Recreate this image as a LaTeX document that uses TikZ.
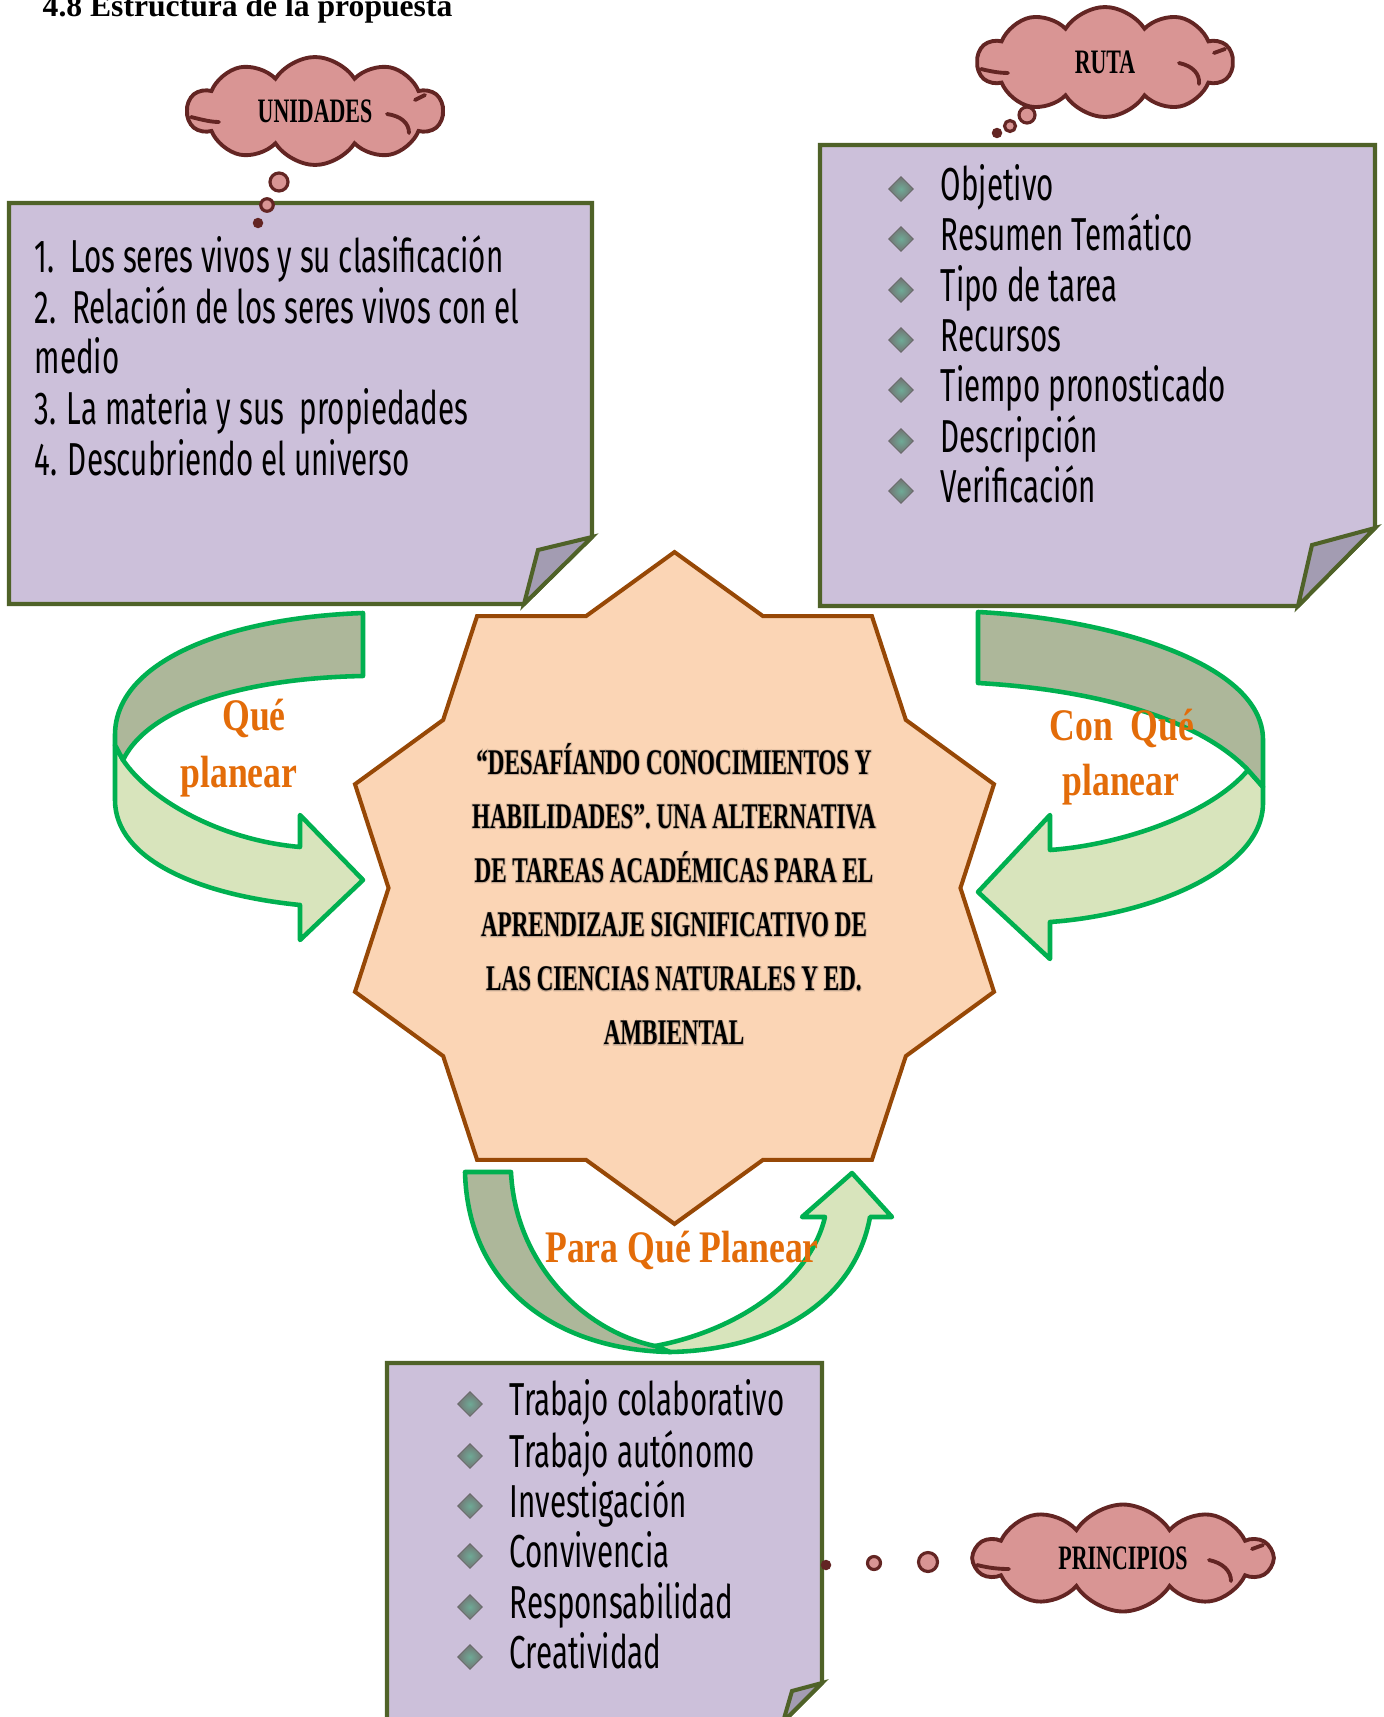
\documentclass[tikz,border=0pt]{standalone}
\usepackage{xcolor}
\usepackage{fontspec}
\setmainfont{Liberation Serif}
\newfontfamily\fuentelista[FakeStretch=0.64]{Fira Sans}
\newfontfamily\fuentecondensada[FakeStretch=0.64]{Liberation Serif}
\newfontfamily\fuentehalo[FakeStretch=0.64, FakeBold=5, BoldFeatures={FakeBold=5}]{Liberation Serif}
\newfontfamily\fuenteflecha[FakeStretch=0.79]{Liberation Serif}
\usepackage{tikz}
\usetikzlibrary{shapes}
\usetikzlibrary{shapes.geometric}
\usetikzlibrary{shapes.symbols}
\usetikzlibrary{positioning}

\definecolor{lila}{RGB}{204,192,218}
\definecolor{lilaoscuro}{RGB}{163,156,178}
\definecolor{oliva}{RGB}{79,98,40}
\definecolor{rosa}{RGB}{217,149,148}
\definecolor{vino}{RGB}{99,37,35}
\definecolor{durazno}{RGB}{251,213,181}
\definecolor{cafe}{RGB}{151,72,6}
\definecolor{halo}{RGB}{175,150,130}
\definecolor{verde}{RGB}{0,176,80}
\definecolor{verdeoscuro}{RGB}{173,183,154}
\definecolor{verdeclaro}{RGB}{216,228,188}
\definecolor{naranja}{RGB}{227,108,9}
\definecolor{turquesa}{RGB}{110,170,150}

\newcommand{\lematexto}{“DESAFÍANDO CONOCIMIENTOS Y\\HABILIDADES”. UNA ALTERNATIVA\\DE TAREAS ACADÉMICAS PARA EL\\APRENDIZAJE SIGNIFICATIVO DE\\LAS CIENCIAS NATURALES Y ED.\\AMBIENTAL}

\begin{document}
\begin{tikzpicture}[
	x=0.02cm, y=-0.02cm,
	thick
]
\tikzset{
    caja/.style = {draw=oliva, fill=lila, line width=2.3pt},
    doblez/.style = {draw=oliva, fill=lilaoscuro, line width=2.3pt},
    nube/.style = {cloud, cloud puffs=10, cloud puff arc=115, cloud ignores aspect, draw=vino, fill=rosa, line width=2.2pt, inner sep=0pt, font=\fuentecondensada\bfseries\fontsize{19.5}{21}\selectfont},
    rizo/.style = {draw=vino, line width=2.2pt, line cap=round},
    burbuja/.style = {circle, draw=vino, fill=rosa, line width=1.8pt, inner sep=0pt},
    punto/.style = {circle, fill=vino, inner sep=0pt, minimum size=0.21cm},
    item/.style = {anchor=base west, inner sep=0pt, font=\fuentelista\fontsize{26.3}{28}\selectfont},
    vineta/.style = {diamond, inner sep=0pt, minimum size=0.5cm, draw=black!60, line width=0.4pt, inner color=turquesa, outer color=black!55},
    flecha/.style = {draw=verde, line width=2.6pt, line join=round},
    etiqueta/.style = {anchor=base, text=naranja, inner sep=0pt, font=\fuenteflecha\bfseries\fontsize{25.7}{28}\selectfont}
}
\useasboundingbox[fill=white] (0,0) rectangle (1383,1717);

% titulo
\node[anchor=base west, inner sep=0pt, font=\bfseries\fontsize{18}{20}\selectfont] (titulo) at (42,17) {4.8 Estructura de la propuesta};

% cajas
\draw[caja] (9,203) -- (592,203) -- (592,537) -- (524,604) -- (9,604) -- cycle;
\draw[doblez] (592,537) -- (538,550) -- (524,604) -- cycle;
\draw[caja] (820,145) -- (1375,145) -- (1375,528) -- (1298,606) -- (820,606) -- cycle;
\draw[doblez] (1375,528) -- (1312,545) -- (1298,606) -- cycle;
\draw[caja] (387,1363) -- (822,1363) -- (822,1683) -- (783,1722) -- (387,1722) -- cycle;
\draw[doblez] (822,1683) -- (792,1691) -- (783,1722) -- cycle;

% nubes
\node[nube, minimum width=5.1cm, minimum height=2.16cm] (unidades) at (315,111) {UNIDADES};
\begin{scope}[shift={(315,111)}]
\draw[rizo] (-124,6) .. controls (-112,9) and (-104,11) .. (-96,11);
\draw[rizo] (72,3) .. controls (86,5) and (94,12) .. (94,22);
\draw[rizo] (110,-16) -- (100,-11);
\end{scope}
\node[burbuja, minimum size=0.36cm] (bu1) at (279,182) {};
\node[burbuja, minimum size=0.25cm] (bu2) at (267,205) {};
\node[punto] (bu3) at (258,223) {};

\node[nube, minimum width=5.1cm, minimum height=2.2cm] (ruta) at (1105,62) {RUTA};
\begin{scope}[shift={(1105,62)}]
\draw[rizo] (-124,7) .. controls (-112,10) and (-104,11) .. (-97,11);
\draw[rizo] (74,1) .. controls (88,4) and (95,12) .. (94,22);
\draw[rizo] (120,-13) -- (109,-9);
\end{scope}
\node[burbuja, minimum size=0.32cm] (br1) at (1027,115) {};
\node[burbuja, minimum size=0.22cm] (br2) at (1010,126) {};
\node[punto] (br3) at (997,133) {};

\node[nube, minimum width=5.94cm, minimum height=2.14cm] (principios) at (1123,1558) {PRINCIPIOS};
\begin{scope}[shift={(1123,1558)}]
\draw[rizo] (-146,7) .. controls (-134,10) and (-124,11) .. (-114,11);
\draw[rizo] (86,2) .. controls (100,5) and (108,13) .. (108,23);
\draw[rizo] (140,-13) -- (129,-9);
\end{scope}
\node[burbuja, minimum size=0.38cm] (bp1) at (928,1562) {};
\node[burbuja, minimum size=0.26cm] (bp2) at (874,1563) {};
\node[punto] (bp3) at (826,1565) {};

% unidades
\node[item] (u1) at (34,272) {1.\ \ Los seres vivos y su clasificación};
\node[item] (u2) at (34,323) {2.\ \ Relación de los seres vivos con el};
\node[item] (u3) at (34,373) {medio};
\node[item] (u4) at (34,424) {3. La materia y sus\ \ propiedades};
\node[item] (u5) at (34,475) {4. Descubriendo el universo};

% ruta
\node[vineta] (vr1) at (901,189) {};
\node[item] (r1) at (940,200) {Objetivo};
\node[vineta] (vr2) at (901,239) {};
\node[item] (r2) at (940,250) {Resumen Temático};
\node[vineta] (vr3) at (901,290) {};
\node[item] (r3) at (940,301) {Tipo de tarea};
\node[vineta] (vr4) at (901,340) {};
\node[item] (r4) at (940,351) {Recursos};
\node[vineta] (vr5) at (901,390) {};
\node[item] (r5) at (940,401) {Tiempo pronosticado};
\node[vineta] (vr6) at (901,441) {};
\node[item] (r6) at (940,452) {Descripción};
\node[vineta] (vr7) at (901,491) {};
\node[item] (r7) at (940,502) {Verificación};

% principios
\node[vineta] (vp1) at (470,1404) {};
\node[item] (p1) at (509,1415) {Trabajo colaborativo};
\node[vineta] (vp2) at (470,1456) {};
\node[item] (p2) at (509,1467) {Trabajo autónomo};
\node[vineta] (vp3) at (470,1506) {};
\node[item] (p3) at (509,1517) {Investigación};
\node[vineta] (vp4) at (470,1556) {};
\node[item] (p4) at (509,1567) {Convivencia};
\node[vineta] (vp5) at (470,1607) {};
\node[item] (p5) at (509,1618) {Responsabilidad};
\node[vineta] (vp6) at (470,1657) {};
\node[item] (p6) at (509,1668) {Creatividad};

% estrella central
\node[star, star points=10, star point ratio=1.175, minimum size=13.44cm, draw=cafe, fill=durazno, line width=2.3pt, inner sep=0pt] (estrella) at (674.5,888) {};
\node[align=center, text=halo, text opacity=0.6, font=\fuentehalo\bfseries\fontsize{20.5}{30.8}\selectfont] (lemahalo) at (674,894) {\lematexto};
\node[align=center, font=\fuentecondensada\bfseries\fontsize{20.5}{30.8}\selectfont] (lema) at (674,894) {\lematexto};

% flecha izquierda
\draw[flecha, fill=verdeclaro] (123,760) .. controls (150,800) and (220,840) .. (300,847) -- (300,815) -- (363,880) -- (300,940) -- (300,905) .. controls (200,895) and (115,860) .. (115,800) -- (115,745) -- cycle;
\draw[flecha, fill=verdeoscuro] (363,613) .. controls (225,618) and (115,662) .. (115,735) -- (115,745) -- (123,760) .. controls (150,705) and (250,678) .. (363,676) -- cycle;

% flecha derecha
\draw[flecha, fill=verdeclaro] (1248,770) -- (1263,787) -- (1263,803) .. controls (1263,870) and (1150,915) .. (1050,922) -- (1050,959) -- (978,892) -- (1050,815) -- (1050,850) .. controls (1120,845) and (1210,815) .. (1248,770) -- cycle;
\draw[flecha, fill=verdeoscuro] (978,612) .. controls (1100,618) and (1263,660) .. (1263,740) -- (1263,787) -- (1248,770) .. controls (1200,720) and (1100,690) .. (978,683) -- cycle;

% flecha de abajo
\draw[flecha, fill=verdeclaro] (655,1346) .. controls (740,1330) and (810,1280) .. (825,1217) -- (802,1217) -- (852,1173) -- (892,1217) -- (870,1217) .. controls (855,1300) and (775,1350) .. (670,1352) -- cycle;
\draw[flecha, fill=verdeoscuro] (465,1172) -- (511,1172) .. controls (515,1260) and (580,1330) .. (655,1346) -- (670,1352) .. controls (560,1350) and (468,1290) .. (465,1172) -- cycle;

% etiquetas
\node[etiqueta] (que1) at (254,730) {Qué};
\node[etiqueta] (que2) at (239,787) {planear};
\node[etiqueta] (con1) at (1122,740) {Con\ \ Qué};
\node[etiqueta] (con2) at (1121,795) {planear};
\node[etiqueta] (para) at (682,1262) {Para Qué Planear};
\end{tikzpicture}
\end{document}
